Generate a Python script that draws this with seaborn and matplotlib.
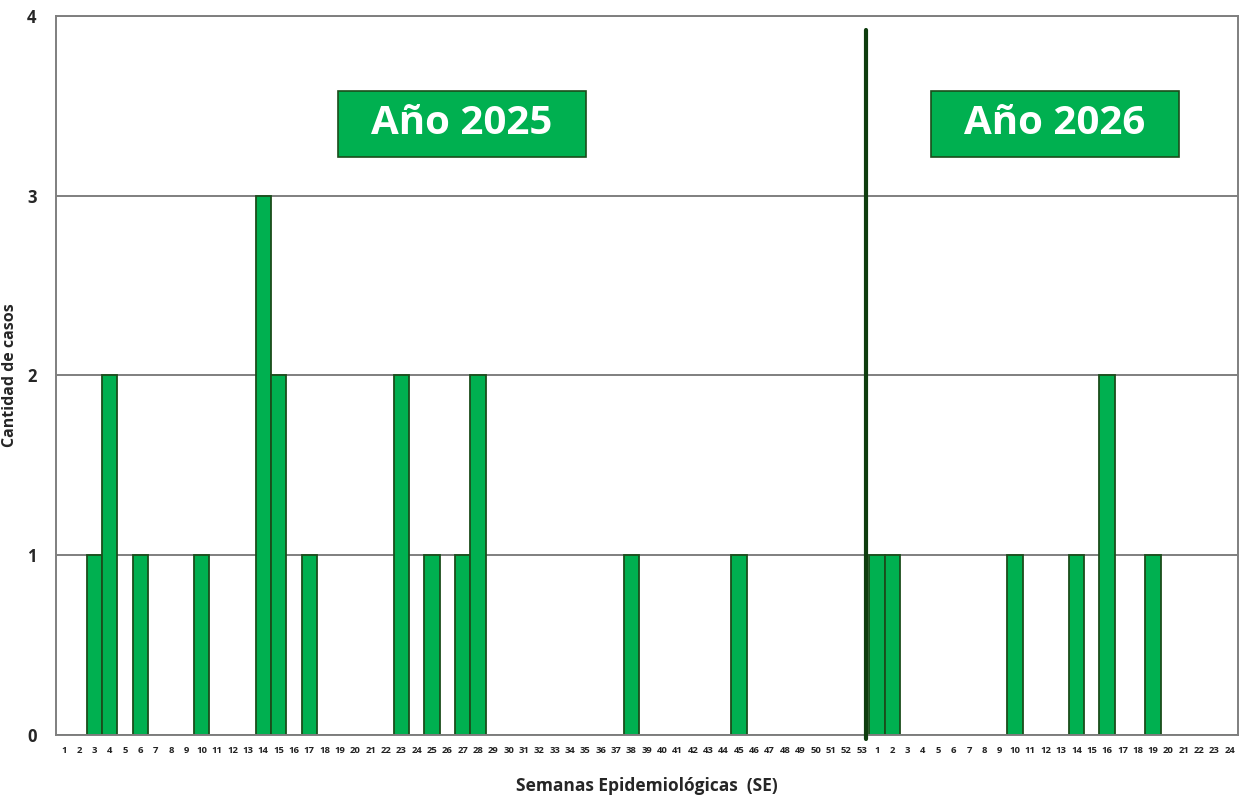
import matplotlib
matplotlib.use("Agg")
import matplotlib.pyplot as plt
from matplotlib.patches import Rectangle
import seaborn as sns
import pandas as pd

weeks_2025 = list(range(1, 54))
weeks_2026 = list(range(1, 25))
cases_2025 = {3: 1, 4: 2, 6: 1, 10: 1, 14: 3, 15: 2, 17: 1, 23: 2, 25: 1,
              27: 1, 28: 2, 38: 1, 45: 1}
cases_2026 = {1: 1, 2: 1, 10: 1, 14: 1, 16: 2, 19: 1}
year_labels = ["Año 2025", "Año 2026"]

keys = [f"2025-{w}" for w in weeks_2025] + [f"2026-{w}" for w in weeks_2026]
values = [cases_2025.get(w, 0) for w in weeks_2025] + [cases_2026.get(w, 0) for w in weeks_2026]
tick_labels = [str(w) for w in weeks_2025] + [str(w) for w in weeks_2026]
df = pd.DataFrame({"semana": keys, "casos": values})

sns.set_style("white")
plt.rcParams['font.family'] = ['Open Sans', 'DejaVu Sans']

fig = plt.figure(figsize=(12.4, 7.96), dpi=100)
ax = fig.add_axes([0.0452, 0.0766, 0.9528, 0.9034])

GREEN = "#00B050"
EDGE = "#1B4D1B"

ax.set_axisbelow(True)
ax.yaxis.grid(True, color="#7f7f7f", linewidth=1.4)
sns.barplot(data=df, x="semana", y="casos", order=keys, color=GREEN,
            width=1.0, edgecolor=EDGE, linewidth=1.3, saturation=1, ax=ax,
            errorbar=None)

ax.set_xlim(-0.5, len(keys) - 0.5)
ax.set_ylim(0, 4)
ax.set_yticks([0, 1, 2, 3, 4])
ax.set_yticklabels(["0", "1", "2", "3", "4"], fontsize=12, fontweight="bold")
ax.set_xticks(range(len(keys)))
ax.set_xticklabels(tick_labels, fontsize=6.8, fontweight="bold", color="#222222")
ax.tick_params(axis="x", length=0, pad=8)
ax.tick_params(axis="y", length=0, pad=14)
for s in ax.spines.values():
    s.set_color("#7f7f7f")
    s.set_linewidth(1.4)

ax.set_ylabel("Cantidad de casos", fontsize=11.5, fontweight="bold")
ax.yaxis.set_label_coords(-0.032, 0.5)
ax.set_xlabel("Semanas Epidemiológicas  (SE)", fontsize=12.5, fontweight="bold", labelpad=16)

# separator between years
sep = 52.27
ax.plot([sep, sep], [-0.02, 3.92], color="#0F3D0F", linewidth=3, clip_on=False, zorder=5)

# year boxes
for cx, lab in zip([25.95, 64.6], year_labels):
    ax.add_patch(Rectangle((cx - 8.08, 3.216), 16.16, 0.367, facecolor=GREEN,
                           edgecolor=EDGE, linewidth=1.2, zorder=6))
    ax.text(cx, 3.40, lab, ha="center", va="center", fontsize=29,
            fontweight="bold", color="white", zorder=7)

fig.savefig("out.png", dpi=100)
